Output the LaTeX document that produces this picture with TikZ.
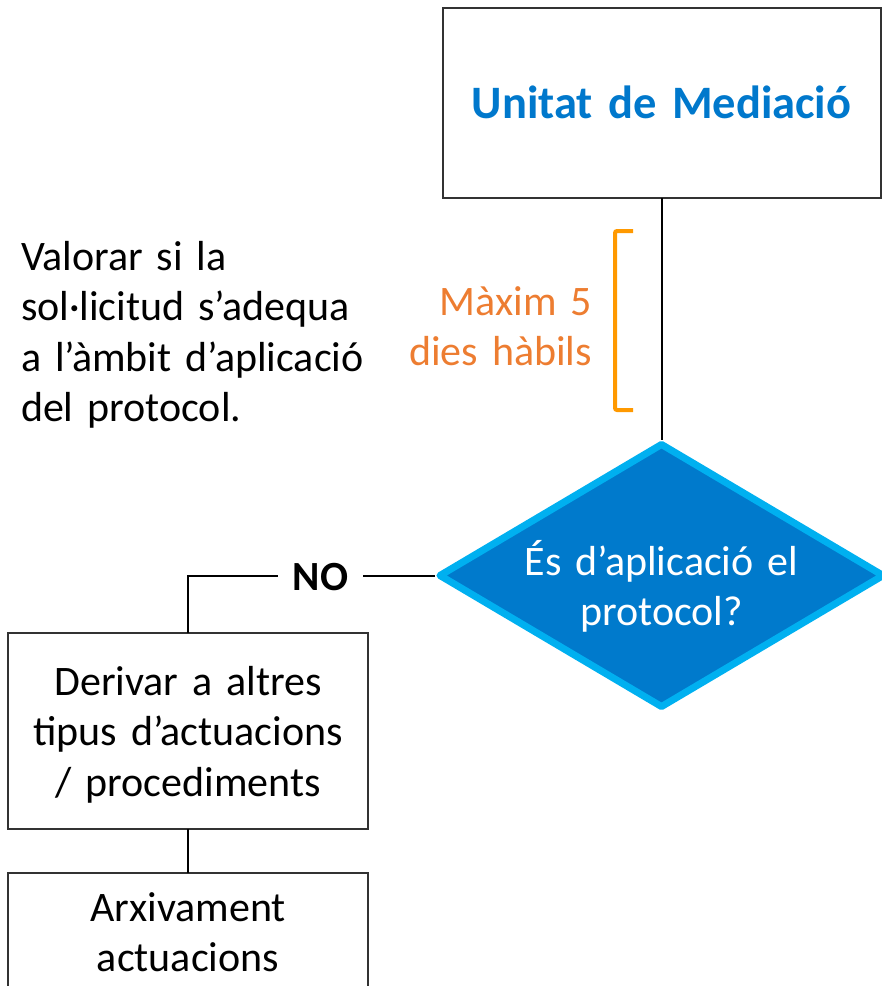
\documentclass[tikz,border=0pt]{standalone}
\usepackage{fontspec}
\setmainfont{Carlito}
\usetikzlibrary{shapes.geometric}
\definecolor{titleblue}{RGB}{0,120,204}
\definecolor{dfill}{RGB}{0,122,204}
\definecolor{dborder}{RGB}{0,176,240}
\definecolor{otext}{RGB}{237,125,49}
\definecolor{obrk}{RGB}{255,153,0}
\definecolor{boxline}{RGB}{50,50,50}
\begin{document}
\begin{tikzpicture}[x=1pt,y=-1pt,
  box/.style={draw=boxline,line width=2pt,rectangle,inner sep=0pt,outer sep=0pt},
  txt/.style={inner sep=0pt,outer sep=0pt,font=\fontsize{42}{50.5}\selectfont},
  btxt/.style={inner sep=0pt,outer sep=0pt,font=\fontsize{41.5}{50.5}\selectfont\bfseries},
  conn/.style={line width=2pt,black}]
\useasboundingbox (0,0) rectangle (882,986);
\clip (0,0) rectangle (882,986);
% boxes
\node[box,minimum width=438pt,minimum height=190pt] (top) at (662,103) {};
\node[box,minimum width=360pt,minimum height=196pt] (b2) at (188,731) {};
\node[box,minimum width=360pt,minimum height=170pt,anchor=north] (b3) at (188,873) {};
\node[shape=diamond,draw=dborder,fill=dfill,line width=7pt,line join=round,
      minimum width=446pt,minimum height=265pt,inner sep=0pt,outer sep=3.5pt] (dq) at (661.5,575.5) {};
% texts
\node[btxt,font=\fontsize{46.5}{55}\selectfont\bfseries,anchor=base,text width=420pt,align=center,text=titleblue] (tt) at (661.5,118) {Unitat de Mediació};
\node[txt,anchor=base west,text width=400pt,align=left] (val) at (21,270)
  {Valorar si la\\sol·licitud s’adequa\\a l’àmbit d’aplicació\\del protocol.};
\node[txt,anchor=base east,text width=250pt,align=right,text=otext] (max) at (592,315)
  {Màxim 5\\dies hàbils};
\node[txt,anchor=base,text width=420pt,align=center,text=white] (dqt) at (661.5,575)
  {És d’aplicació el\\protocol?};
\node[txt,anchor=base,text width=350pt,align=center] (b2t) at (188,695)
  {Derivar a altres\\tipus d’actuacions\\/ procediments};
\node[txt,anchor=base,text width=350pt,align=center] (b3t) at (188,921)
  {Arxivament\\actuacions};
\node[btxt,anchor=base,inner xsep=15pt] (no) at (320.5,590) {NO};
% connectors
\draw[conn] (top.south) -- (top.south |- dq.north);
\draw[conn] (dq.west) -- (dq.west -| no.east);
\draw[conn] (dq.west -| no.west) -| (b2.north);
\draw[conn] (b2.south) -- (b3.north);
% bracket
\draw[obrk,line width=4pt,rounded corners=2pt] (633,231) -- (615,231) -- (615,410) -- (633,410);
\end{tikzpicture}
\end{document}
